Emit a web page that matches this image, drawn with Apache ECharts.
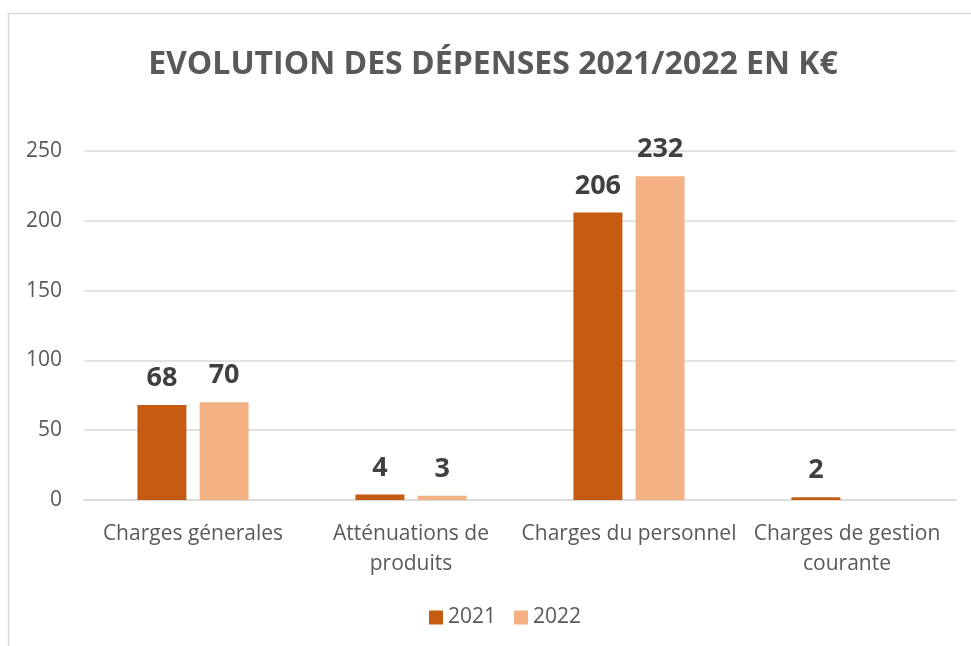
<!DOCTYPE html>
<html>
<head>
<meta charset="utf-8">
<script src="https://cdn.jsdelivr.net/npm/echarts@6/dist/echarts.min.js"></script>
<style>
html, body { margin: 0; padding: 0; background: #fff; }
#main { width: 971px; height: 646px; }
</style>
</head>
<body>
<div id="main"></div>
<script>
var categories = ['Charges génerales', 'Atténuations de\nproduits', 'Charges du personnel', 'Charges de gestion\ncourante'];
var values2021 = [68, 4, 206, 2];
var values2022 = [70, 3, 232, null];
var yTicks = [0, 50, 100, 150, 200, 250];

var chart = echarts.init(document.getElementById('main'));
var font = '"Open Sans", sans-serif';

function barLabel() {
	return {
		show: true,
		position: 'top',
		distance: 13,
		color: '#404040',
		fontFamily: font,
		fontWeight: 'bold',
		fontSize: 27
	};
}

var option = {
	backgroundColor: '#fff',
	textStyle: { fontFamily: font },
	title: {
		text: 'EVOLUTION DES DÉPENSES 2021/2022 EN K€',
		left: 488,
		top: 44,
		textAlign: 'center',
		textStyle: {
			color: '#595959',
			fontFamily: font,
			fontWeight: 'bold',
			fontSize: 32
		}
	},
	graphic: [{
		type: 'rect',
		shape: { x: 8.5, y: 13.5, width: 1000, height: 1000 },
		style: { fill: 'none', stroke: '#d9d9d9', lineWidth: 1.5 },
		silent: true
	}],
	legend: {
		bottom: 13,
		left: 424,
		itemWidth: 14,
		itemHeight: 14,
		itemGap: 18,
		icon: 'rect',
		textStyle: { color: '#595959', fontSize: 21, fontFamily: font },
		data: ['2021', '2022']
	},
	grid: {
		left: 84,
		right: 15,
		top: 151,
		bottom: 146,
		containLabel: false
	},
	xAxis: {
		type: 'category',
		data: categories,
		axisLine: { lineStyle: { color: '#d9d9d9', width: 1.5 } },
		axisTick: { show: false },
		axisLabel: {
			color: '#595959',
			fontSize: 21,
			fontFamily: font,
			margin: 19,
			lineHeight: 30,
			interval: 0
		}
	},
	yAxis: {
		type: 'value',
		min: yTicks[0],
		max: yTicks[yTicks.length - 1],
		interval: 50,
		axisLine: { show: false },
		axisTick: { show: false },
		splitLine: { lineStyle: { color: '#d9d9d9', width: 1.5 } },
		axisLabel: {
			color: '#595959',
			fontSize: 21,
			fontFamily: font,
			margin: 22
		}
	},
	series: [{
		name: '2021',
		type: 'bar',
		data: values2021,
		itemStyle: { color: '#C55A11' },
		barGap: '27%',
		barCategoryGap: '49%',
		label: barLabel()
	}, {
		name: '2022',
		type: 'bar',
		data: values2022,
		itemStyle: { color: '#F4B183' },
		label: barLabel()
	}]
};
chart.setOption(option);
</script>
</body>
</html>
